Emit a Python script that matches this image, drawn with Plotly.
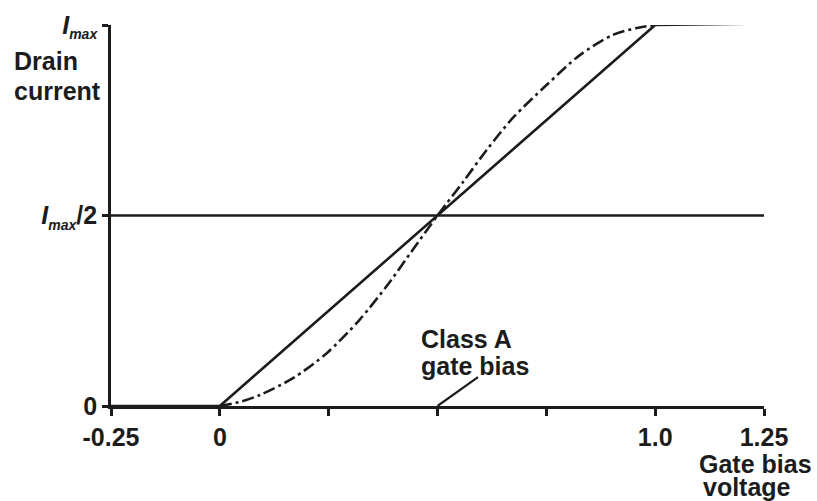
import plotly.graph_objects as go

# ---- data ----
x_tick_vals = [-0.25, 0, 0.25, 0.5, 0.75, 1.0, 1.25]
x_tick_text = ["-0.25", "0", "", "", "", "1.0", "1.25"]
y_tick_vals = [0, 0.5, 1.0]
SUB = "<sub><span style='font-size:14px'>max</span></sub>"
y_tick_text = ["0", "<i>I" + SUB + "</i>/2", "<i>I" + SUB + "</i>"]

linear_x = [-0.25, 0.0, 1.0, 1.25]
linear_y = [0.0, 0.0, 1.0, 1.004]

curve_x = [0.0, 0.05, 0.092, 0.168, 0.245, 0.32, 0.39, 0.44, 0.5, 0.56,
           0.613, 0.673, 0.751, 0.827, 0.903, 0.958, 1.0]
curve_y = [0.0, 0.012, 0.029, 0.073, 0.138, 0.225, 0.325, 0.405, 0.5, 0.59,
           0.672, 0.756, 0.843, 0.921, 0.974, 0.992, 1.0]

half_x = [-0.25, 1.25]
half_y = [0.5, 0.5]

bias_point = [0.5, 0.0]
bias_label_end = [0.593, 0.076]

# ---- style ----
W, H = 817, 501
ML, MR, MT, MB = 111, 53, 25, 95
INK = "#1c1c1c"
FS = 25
FONT = dict(family="Liberation Sans, Arial, sans-serif", size=FS, color=INK, weight="bold")


def px_to_paper(px, py):
    pw = W - ML - MR
    ph = H - MT - MB
    return (px - ML) / pw, (H - MB - py) / ph


fig = go.Figure()
fig.add_trace(go.Scatter(x=half_x, y=half_y, mode="lines",
                         line=dict(color=INK, width=2.6), cliponaxis=False,
                         hoverinfo="skip", showlegend=False))
fig.add_trace(go.Scatter(x=linear_x, y=linear_y, mode="lines",
                         line=dict(color=INK, width=2.6), cliponaxis=False,
                         hoverinfo="skip", showlegend=False))
fig.add_trace(go.Scatter(x=curve_x, y=curve_y, mode="lines",
                         line=dict(color=INK, width=2.6, shape="spline", smoothing=0.8,
                                   dash="12px,4px,3px,4px"),
                         cliponaxis=False, hoverinfo="skip", showlegend=False))

fig.add_shape(type="line", xref="x", yref="y",
              x0=bias_point[0], y0=bias_point[1],
              x1=bias_label_end[0], y1=bias_label_end[1],
              line=dict(color=INK, width=2.2))


def label(text, px, py, anchor):
    x, y = px_to_paper(px, py)
    fig.add_annotation(text=text, xref="paper", yref="paper", x=x, y=y,
                       xanchor=anchor, yanchor="middle", showarrow=False,
                       font=FONT)


label("Drain", 12, 61, "left")
label("current", 12, 91, "left")
label("Class A", 419, 339, "left")
label("gate bias", 419, 366, "left")
label("Gate bias", 755, 464, "center")
label("voltage", 747, 487, "center")

axis_common = dict(showgrid=False, zeroline=False, showline=True, linecolor=INK,
                   linewidth=2.6, ticks="outside", tickwidth=2.6, tickcolor=INK,
                   tickfont=FONT, fixedrange=True)

fig.update_xaxes(range=[-0.25, 1.25], tickmode="array", tickvals=x_tick_vals,
                 ticktext=x_tick_text, ticklen=7, **axis_common)
fig.update_yaxes(range=[0, 1.0], tickmode="array", tickvals=y_tick_vals,
                 ticktext=y_tick_text, ticklen=6, **axis_common)

fig.update_layout(width=W, height=H, margin=dict(l=ML, r=MR, t=MT, b=MB),
                  paper_bgcolor="white", plot_bgcolor="white",
                  showlegend=False)

fig.write_html("out.html")
